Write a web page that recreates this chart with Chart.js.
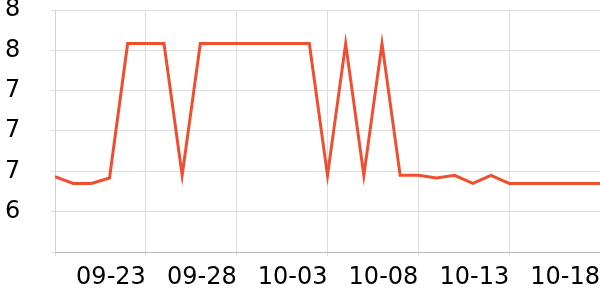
<!DOCTYPE html>
<html>
<head>
<meta charset="utf-8">
<script src="https://cdn.jsdelivr.net/npm/chart.js@4/dist/chart.umd.min.js"></script>
<style>
  html, body { margin: 0; padding: 0; background: #fff; }
  #wrap { width: 600px; height: 300px; }
</style>
</head>
<body>
<div id="wrap"><canvas id="canvas" width="600" height="300"></canvas></div>
<script>
// daily dates 09-18 .. 10-18
var dates = ["09-18", "09-19", "09-20", "09-21", "09-22", "09-23", "09-24", "09-25", "09-26", "09-27",
             "09-28", "09-29", "09-30", "10-01", "10-02", "10-03", "10-04", "10-05", "10-06", "10-07",
             "10-08", "10-09", "10-10", "10-11", "10-12", "10-13", "10-14", "10-15", "10-16", "10-17",
             "10-18"];
var values = [6.56, 6.51, 6.51, 6.55, 7.55, 7.55, 7.55, 6.57, 7.55, 7.55,
              7.55, 7.55, 7.55, 7.55, 7.55, 6.57, 7.55, 6.57, 7.55, 6.57,
              6.57, 6.55, 6.57, 6.51, 6.57, 6.51, 6.51, 6.51, 6.51, 6.51,
              6.51];
var yMin = 6.0, yMax = 7.8, yStep = 0.3;
var labelStep = 5;

var points = [];
for (var i = 0; i < values.length; i++) {
    points.push({ x: i, y: values[i] });
}

var ctx = document.getElementById("canvas").getContext("2d");
var pChart = new Chart(ctx, {
    type: 'line',
    data: {
        datasets: [{
            data: points,
            borderColor: '#f04e30',
            borderWidth: 3,
            pointRadius: 0,
            fill: false,
            tension: 0
        }]
    },
    options: {
        responsive: false,
        animation: false,
        devicePixelRatio: 1,
        layout: { padding: { left: 5, top: 0, right: 0, bottom: 0 } },
        plugins: {
            legend: { display: false },
            tooltip: { enabled: false }
        },
        scales: {
            x: {
                type: 'linear',
                min: 0,
                max: dates.length - 1,
                afterFit: function (scale) {
                    scale.height = 48;
                    scale.paddingLeft = 0;
                    scale.paddingRight = 0;
                },
                grid: { color: '#dddddd', tickLength: 4, lineWidth: 1 },
                border: { color: '#bbbbbb' },
                ticks: {
                    stepSize: labelStep,
                    align: 'end',
                    maxRotation: 0,
                    padding: 7,
                    color: '#000',
                    font: { family: 'DejaVu Sans', size: 24 },
                    callback: function (v) { return v === 0 ? '' : dates[v]; }
                }
            },
            y: {
                min: yMin,
                max: yMax,
                afterFit: function (scale) {
                    scale.width = 50;
                    scale.paddingTop = 10;
                    scale.paddingBottom = 0;
                },
                grid: { color: '#dddddd', tickLength: 4, lineWidth: 1 },
                border: { color: '#d0d0d0' },
                ticks: {
                    stepSize: yStep,
                    crossAlign: 'far',
                    color: '#000',
                    font: { family: 'DejaVu Sans', size: 24 },
                    callback: function (v, idx) { return idx === 0 ? '' : String(Math.round(v)); }
                }
            }
        }
    }
});
</script>
</body>
</html>
